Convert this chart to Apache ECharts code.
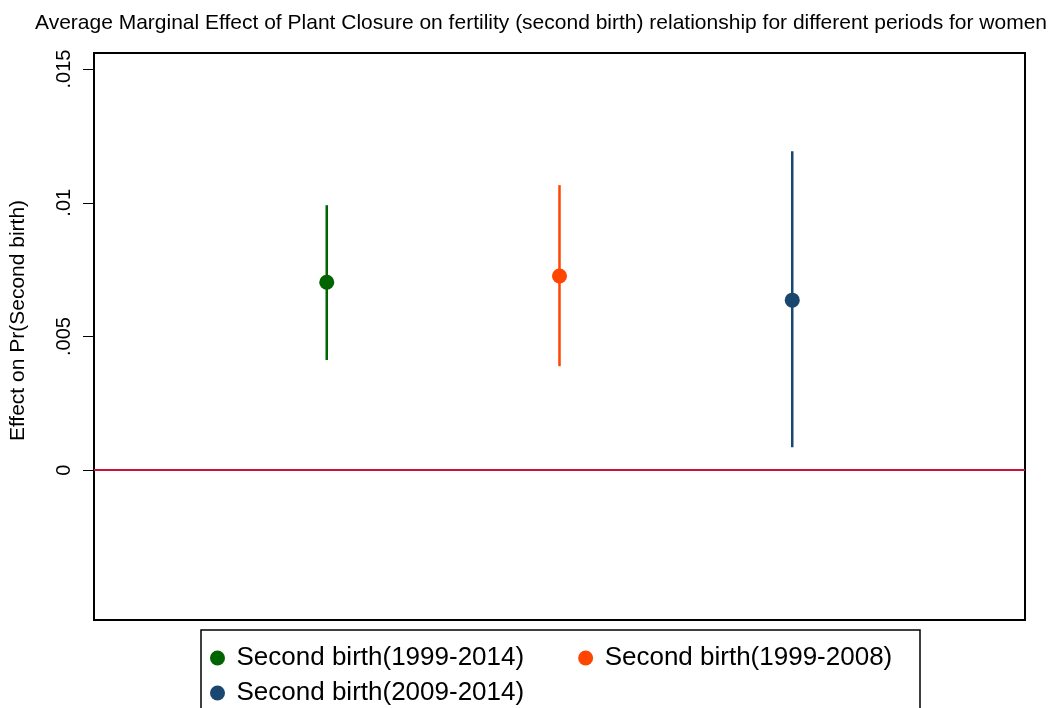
<!DOCTYPE html>
<html>
<head>
<meta charset="utf-8">
<script src="https://cdn.jsdelivr.net/npm/echarts@6/dist/echarts.min.js"></script>
<style>
  html, body { margin: 0; padding: 0; background: #ffffff; }
  #chart { width: 1052px; height: 708px; }
</style>
</head>
<body>
<div id="chart"></div>
<script>
// data
const periods = ['Second birth(1999-2014)', 'Second birth(1999-2008)', 'Second birth(2009-2014)']
const positions = [1, 2, 3]
const estimates = [0.00703, 0.00726, 0.00636]
const lower = [0.00412, 0.00389, 0.00086]
const upper = [0.00991, 0.01066, 0.01193]
const colors = ['#006400', '#ff4500', '#1a476f']
const yTicks = [0, 0.005, 0.01, 0.015]
const yTickLabels = ['0', '.005', '.01', '.015']

const font = '"Liberation Sans", Arial, sans-serif'
const chart = echarts.init(document.getElementById('chart'))

// one error bar + one point per period
const series = []
periods.forEach((name, i) => {
  series.push({
    name: name + ' CI',
    type: 'custom',
    data: [[positions[i], lower[i], upper[i]]],
    renderItem: (params, api) => {
      const a = api.coord([api.value(0), api.value(1)])
      const b = api.coord([api.value(0), api.value(2)])
      return {
        type: 'line',
        shape: { x1: a[0], y1: a[1], x2: b[0], y2: b[1] },
        style: { stroke: colors[i], lineWidth: 2.5 },
      }
    },
    z: 2,
  })
  series.push({
    name: name,
    type: 'scatter',
    data: [[positions[i], estimates[i]]],
    symbol: 'circle',
    symbolSize: 15,
    itemStyle: { color: colors[i], opacity: 1 },
    z: 3,
  })
})

// reference line at zero
series[0].markLine = {
  silent: true,
  symbol: ['none', 'none'],
  label: { show: false },
  lineStyle: { color: '#c8143c', width: 2, type: 'solid' },
  data: [{ yAxis: 0 }],
}

const legendCommon = {
  icon: 'circle',
  itemWidth: 28,
  itemHeight: 15,
  itemGap: 54,
  itemStyle: { opacity: 1 },
  textStyle: { fontFamily: font, fontSize: 26, color: '#000' },
  selectedMode: false,
}

chart.setOption({
  animation: false,
  backgroundColor: '#ffffff',
  title: {
    text: 'Average Marginal Effect of Plant Closure on fertility (second birth) relationship for different periods for women',
    left: 30,
    top: 8,
    textStyle: { fontFamily: font, fontSize: 21, fontWeight: 'normal', color: '#000' },
  },
  grid: {
    left: 94, right: 27, top: 53, bottom: 88,
    show: true, borderColor: '#000', borderWidth: 2,
  },
  xAxis: {
    type: 'value', min: 0, max: 4, show: false,
  },
  yAxis: {
    type: 'value',
    min: -0.0056,
    max: 0.0156,
    name: 'Effect on Pr(Second birth)',
    nameLocation: 'middle',
    nameGap: 65,
    nameTextStyle: { fontFamily: font, fontSize: 21, color: '#000', padding: [0, 0, 0, 32] },
    axisLine: { show: true, lineStyle: { color: '#000', width: 2 } },
    axisTick: { show: true, length: 11, customValues: yTicks, lineStyle: { color: '#000' } },
    axisLabel: {
      customValues: yTicks,
      rotate: 90,
      margin: 20,
      fontFamily: font,
      fontSize: 20,
      color: '#000',
      formatter: (v) => yTickLabels[yTicks.findIndex((t) => Math.abs(t - v) < 1e-9)] ?? '',
    },
    splitLine: { show: false },
  },
  legend: [
    { ...legendCommon, data: periods.slice(0, 2), left: 205, top: 640 },
    { ...legendCommon, data: periods.slice(2), left: 205, top: 675 },
  ],
  graphic: [
    {
      type: 'rect',
      shape: { x: 201, y: 630, width: 719, height: 100 },
      style: { fill: 'none', stroke: '#000', lineWidth: 1.5 },
      silent: true,
    },
  ],
  series,
})
</script>
</body>
</html>
